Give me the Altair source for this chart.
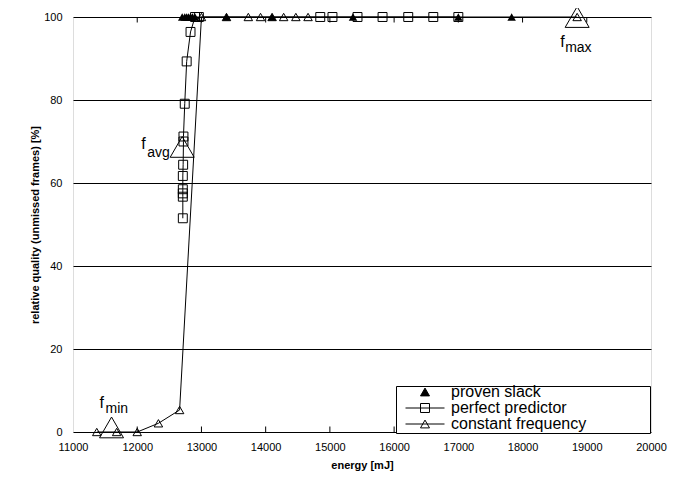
import altair as alt
import pandas as pd

FONT = "Liberation Sans"

# ---- data ----
# constant frequency (open triangles, connected)
cf_energy = [11370, 11680, 12000, 12330, 12660, 13000, 13390, 13730, 13920, 14100, 14280, 14470, 14660, 18850]
cf_quality = [0, 0, 0, 2.1, 5.3, 100, 100, 100, 100, 100, 100, 100, 100, 100]

# perfect predictor (open squares, connected)
pp_energy = [12710, 12710, 12710, 12710, 12710, 12715, 12720, 12720, 12740, 12770, 12830, 12900, 12960,
             14850, 15040, 15430, 15820, 16220, 16610, 17000]
pp_quality = [51.5, 56.7, 57.5, 58.5, 61.7, 64.4, 70.0, 71.2, 79.1, 89.3, 96.4, 100, 100,
              100, 100, 100, 100, 100, 100, 100]

# proven slack (filled triangles, no line)
ps_energy = [12700, 12740, 12770, 12800, 12830, 12860, 12900, 13390, 14100, 15360, 17000, 17830]
ps_quality = [100, 100, 100, 100, 100, 100, 100, 100, 100, 100, 100, 100]

# annotated constant-frequency settings
ann_energy = [11600, 12700, 18850]
ann_quality = [1.1, 68.7, 100]
ann_main = ["f", "f", "f"]
ann_sub = ["min", "avg", "max"]

x_ticks = [11000, 12000, 13000, 14000, 15000, 16000, 17000, 18000, 19000, 20000]
y_ticks = [0, 20, 40, 60, 80, 100]
inner_ticks = [12000, 13000, 14000, 15000, 16000, 17000, 18000, 19000]

series_names = ["proven slack", "perfect predictor", "constant frequency"]

# ---- tables ----
cf = pd.DataFrame({"energy": cf_energy, "quality": cf_quality, "i": list(range(len(cf_energy)))})
pp = pd.DataFrame({"energy": pp_energy, "quality": pp_quality, "i": list(range(len(pp_energy)))})
ps = pd.DataFrame({"energy": ps_energy, "quality": ps_quality})
ann = pd.DataFrame({"energy": ann_energy, "quality": ann_quality, "main": ann_main, "sub": ann_sub})
tk = pd.DataFrame({"energy": inner_ticks})
leg_df = pd.DataFrame({"series": series_names})

W, H = 578, 415

x_enc = alt.X("energy:Q",
              scale=alt.Scale(domain=[11000, 20000], nice=False, zero=False),
              axis=alt.Axis(values=x_ticks, format="d", ticks=False, domain=False, grid=False,
                            labelFlush=False, labelPadding=9, labelFontSize=11,
                            title="energy [mJ]", titleFontSize=11, titleFontWeight="bold",
                            titlePadding=7))
y_enc = alt.Y("quality:Q",
              scale=alt.Scale(domain=[0, 100], nice=False, zero=False),
              axis=alt.Axis(values=y_ticks, ticks=False, domain=False, grid=True,
                            gridColor="black", gridWidth=1, gridOpacity=1,
                            labelPadding=11, labelFontSize=11,
                            title="relative quality (unmissed frames) [%]",
                            titleFontSize=11, titleFontWeight="bold", titlePadding=3))

base_cf = alt.Chart(cf)
cf_line = base_cf.mark_line(color="black", strokeWidth=1).encode(x=x_enc, y=y_enc, order="i:Q")
cf_pts = base_cf.mark_point(shape="triangle-up", size=72, color="black", strokeWidth=1,
                            opacity=1).encode(x=x_enc, y=y_enc)

base_pp = alt.Chart(pp)
pp_line = base_pp.mark_line(color="black", strokeWidth=1).encode(x=x_enc, y=y_enc, order="i:Q")
pp_pts = base_pp.mark_point(shape="square", size=80, color="black", strokeWidth=1,
                            opacity=1).encode(x=x_enc, y=y_enc)

ps_pts = alt.Chart(ps).mark_point(shape="triangle-up", size=72, color="black", filled=True,
                                  opacity=1).encode(x=x_enc, y=y_enc)

ann_pts = alt.Chart(ann).mark_point(shape="triangle-up", size=576, color="black", strokeWidth=1,
                                    opacity=1).encode(x=x_enc, y=y_enc)


def label(name, dx_main, dy_main, dx_sub, dy_sub):
    b = alt.Chart(ann).transform_filter(alt.datum.sub == name)
    m = b.mark_text(align="left", baseline="alphabetic", font=FONT, fontSize=16, color="black",
                    dx=dx_main, dy=dy_main).encode(x=x_enc, y=y_enc, text="main:N")
    s = b.mark_text(align="left", baseline="alphabetic", font=FONT, fontSize=14, color="black",
                    dx=dx_sub, dy=dy_sub).encode(x=x_enc, y=y_enc, text="sub:N")
    return [m, s]


labels = label("min", -12, -19.5, -6, -14.5) + label("avg", -41, 2, -35, 10) + label("max", -17, 30, -12, 35)

tick_bottom = alt.Chart(tk).mark_rule(color="black", strokeWidth=1).encode(
    x=x_enc, y=alt.value(H), y2=alt.value(H - 5.5))
tick_top = alt.Chart(tk).mark_rule(color="black", strokeWidth=1).encode(
    x=x_enc, y=alt.value(0), y2=alt.value(5.5))

pad = "\u00a0" * 14 + "\u200b"
leg = alt.Legend(title=None, orient="none", legendX=323, legendY=369,
                 symbolSize=1521, symbolStrokeWidth=1,
                 labelFont=FONT, labelFontSize=16, labelColor="black", labelLimit=400,
                 labelExpr="datum.label + '" + pad + "'",
                 padding=1, clipHeight=10, rowPadding=0, symbolOffset=8, labelOffset=6,
                 strokeColor="black", fillColor="white")

paths = [
    "M-0.23,0.2L0.23,0.2L0,-0.2Z",
    "M-1,0L1,0M-0.23,-0.23L0.23,-0.23L0.23,0.23L-0.23,0.23Z",
    "M-1,0L1,0M-0.23,0.2L0.23,0.2L0,-0.2Z",
]
legend_layer = alt.Chart(leg_df).mark_point(filled=True, size=1521, strokeWidth=1, opacity=1).encode(
    shape=alt.Shape("series:N", scale=alt.Scale(domain=series_names, range=paths), legend=leg),
    fill=alt.Fill("series:N", scale=alt.Scale(domain=series_names, range=["black", "white", "white"]),
                  legend=leg),
    stroke=alt.Stroke("series:N", scale=alt.Scale(domain=series_names, range=["black", "black", "black"]),
                      legend=leg),
).transform_filter("false")

chart = alt.layer(
    cf_line, pp_line, tick_bottom, tick_top, cf_pts, pp_pts, ps_pts, ann_pts, *labels, legend_layer
).properties(
    width=W, height=H,
    padding={"left": 65, "top": 9, "right": 35, "bottom": 39},
    autosize=alt.AutoSizeParams(type="none"),
).configure_view(
    stroke="black", strokeWidth=1.5
).configure_axis(
    labelFont=FONT, titleFont=FONT, labelColor="black", titleColor="black"
).configure(background="white")

chart.save("out.html", embed_options={"renderer": "svg", "actions": False})
